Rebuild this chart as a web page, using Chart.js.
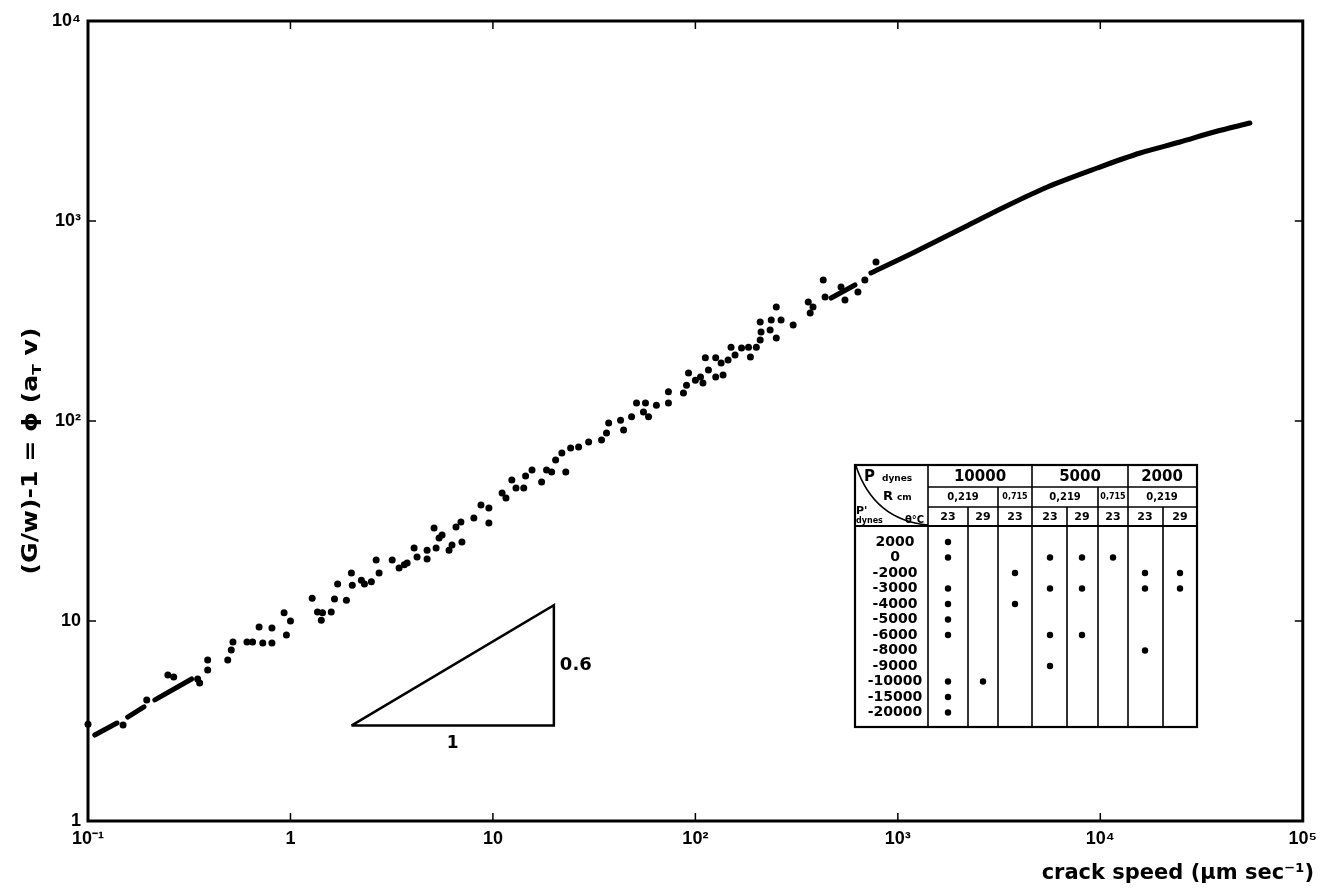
<!DOCTYPE html>
<html><head><meta charset="utf-8">
<script src="https://cdn.jsdelivr.net/npm/chart.js@4"></script>
<style>html,body{margin:0;padding:0;background:#fff}canvas{display:block}</style>
</head><body>
<canvas id="c" width="1324" height="893"></canvas>
<script>
// ---- axis ticks ----
const xTickValues=[0.1,1,10,100,1000,10000,100000];
const xTickLabels=['10⁻¹','1','10','10²','10³','10⁴','10⁵'];
const yTickValues=[1,10,100,1000,10000];
const yTickLabels=['1','10','10²','10³','10⁴'];
const xTitle='crack speed (µm sec⁻¹)';
const yTitleParts=['(G/w)-1 = ϕ (a','T',' v)'];

// ---- scattered measurements (crack speed, (G/w)-1) ----
const pointsX=[0.1,0.149,0.195,0.248,0.265,0.348,0.356,0.39,0.39,0.49,0.51,0.52,0.61,0.65,0.73,0.70,0.81,0.81,0.955,0.93,1.0,
1.28,1.36,1.44,1.59,1.42,1.65,1.89,1.71,2.0,2.02,2.24,2.32,2.51,2.74,2.65,3.18,3.44,3.65,3.77,4.08,4.22,4.73,4.73,5.24,5.12,5.42,5.61,6.07,6.28,7.03,6.57,6.95,8.05,8.73,9.55,9.55,
11.1,11.6,12.4,13.0,14.2,14.5,15.6,17.4,18.4,19.5,20.4,22.9,21.9,24.2,26.5,29.7,34.4,37.3,36.4,42.7,44.2,48.4,51.2,56.7,55.4,58.7,64.2,73.6,73.6,87.3,90.4,92.5,
100,106,109,116,112,126,126,137,134,145,150,157,169,183,187,200,209,211,209,234,251,237,251,265,304,361,369,381,428,437,524,548,635,687,780];
const pointsY=[3.05,3.02,4.03,5.37,5.25,5.13,4.9,6.38,5.69,6.38,7.16,7.85,7.85,7.85,7.76,9.33,9.23,7.76,8.51,11.0,10.0,
13.0,11.1,11.0,11.1,10.1,12.9,12.7,15.3,17.4,15.1,16.0,15.3,15.7,17.4,20.2,20.2,18.4,19.1,19.5,23.2,20.9,22.6,20.4,23.2,29.2,26.0,26.9,22.6,24.0,24.8,29.5,31.3,32.7,38.0,36.7,30.9,
43.7,41.2,50.7,46.2,46.2,53.1,56.9,49.5,56.9,55.6,63.8,55.6,69.2,73.3,74.1,78.5,80.4,97.7,87.1,101,90.2,105,123,123,111,105,120,140,123,138,151,174,
160,166,155,180,207,207,166,170,195,202,234,214,232,234,209,234,254,279,313,285,260,320,372,320,302,394,347,372,507,417,468,403,442,507,624];

// ---- low-speed line (dashed pieces) ----
const lowDash1X=[0.108,0.139], lowDash1Y=[2.69,3.09];
const lowDash2X=[0.157,0.189], lowDash2Y=[3.31,3.72];
const lowDash3X=[0.214,0.325], lowDash3Y=[4.03,5.13];
// ---- high-speed curve ----
const highDashX=[468,614], highDashY=[412,479];
const curveX=[736,1213,2138,3365,5480,9660,15740,24770,36470,54800];
const curveY=[550,700,933,1175,1479,1841,2188,2483,2786,3090];
// ---- slope triangle ----
const triX=[2,20,20,2], triY=[3,3,12,3];
const triRunLabel='1', triRiseLabel='0.6';

// ---- inset table ----
const tablePressures=['10000','5000','2000'];
const tableRadii=['0,219','0,715','0,219','0,715','0,219'];
const tableTemps=['23','29','23','23','29','23','23','29'];
const tableRows=['2000','0','-2000','-3000','-4000','-5000','-6000','-8000','-9000','-10000','-15000','-20000'];
const tableMarks=[[0,1,3,4,5,6,9,10,11],[9],[2,4],[1,3,6,8],[1,3,6],[1],[2,3,7],[2,3]];

const toXY=(xs,ys)=>xs.map((x,i)=>({x,y:ys[i]}));
const lineDs=(xs,ys,w,extra)=>Object.assign({type:'line',data:toXY(xs,ys),borderColor:'#000',borderWidth:w,pointRadius:0,borderCapStyle:'round',fill:false,clip:false},extra||{});

function seg(ctx,x1,y1,x2,y2){ctx.beginPath();ctx.moveTo(x1,y1);ctx.lineTo(x2,y2);ctx.stroke();}

function drawTable(ctx){
  const L=855,R=1197,T=465,B=727,r1=487,r2=507,r3=526;
  ctx.strokeStyle='#000';ctx.fillStyle='#000';
  ctx.lineWidth=2.2;ctx.strokeRect(L,T,R-L,B-T);
  ctx.lineWidth=1.6;
  seg(ctx,928,T,928,B);
  seg(ctx,928,r1,R,r1);seg(ctx,928,r2,R,r2);
  ctx.lineWidth=2.2;seg(ctx,L,r3,R,r3);
  ctx.lineWidth=1.6;
  [1032,1128].forEach(x=>seg(ctx,x,T,x,B));
  [998,1098].forEach(x=>seg(ctx,x,r1,x,B));
  [968,1067,1163].forEach(x=>seg(ctx,x,r2,x,B));
  ctx.beginPath();ctx.moveTo(L+1,T+1);ctx.quadraticCurveTo(874,520,928,525);ctx.stroke();
  ctx.textBaseline='middle';
  ctx.textAlign='left';
  ctx.font='bold 15px "DejaVu Sans"';ctx.fillText('P',864,477);
  ctx.font='bold 9px "DejaVu Sans"';ctx.fillText('dynes',882,479);
  ctx.font='bold 13px "DejaVu Sans"';ctx.fillText('R',883,497);
  ctx.font='bold 9px "DejaVu Sans"';ctx.fillText('cm',897,498);
  ctx.font='bold 11px "DejaVu Sans"';ctx.fillText("P'",856,511);
  ctx.font='bold 8px "DejaVu Sans"';ctx.fillText('dynes',856,521);
  ctx.font='bold 10px "DejaVu Sans"';ctx.fillText('θ°C',905,520);
  ctx.textAlign='center';
  ctx.font='bold 15px "DejaVu Sans"';
  [980,1080,1162].forEach((x,i)=>ctx.fillText(tablePressures[i],x,477));
  const rx=[963,1015,1065,1113,1162];
  tableRadii.forEach((t,i)=>{ctx.font=(t==='0,715'?'bold 8px':'bold 10px')+' "DejaVu Sans"';ctx.fillText(t,rx[i],497);});
  const cx=[948,983,1015,1050,1082,1113,1145,1180];
  ctx.font='bold 11px "DejaVu Sans"';
  tableTemps.forEach((t,i)=>ctx.fillText(t,cx[i],517));
  ctx.font='bold 14px "DejaVu Sans"';
  const ry=i=>542+i*15.5;
  tableRows.forEach((t,i)=>ctx.fillText(t,895,ry(i)));
  tableMarks.forEach((rows,c)=>rows.forEach(r=>{ctx.beginPath();ctx.arc(cx[c],ry(r),3.2,0,Math.PI*2);ctx.fill();}));
}

const deco={
  id:'deco',
  afterDraw(chart){
    const ctx=chart.ctx,a=chart.chartArea,xs=chart.scales.x,ys=chart.scales.y;
    ctx.save();
    ctx.strokeStyle='#000';ctx.fillStyle='#000';
    ctx.lineWidth=3;ctx.strokeRect(a.left,a.top,a.right-a.left,a.bottom-a.top);
    ctx.lineWidth=1.5;
    xTickValues.forEach(v=>{const p=xs.getPixelForValue(v);seg(ctx,p,a.bottom,p,a.bottom-8);seg(ctx,p,a.top,p,a.top+8);});
    yTickValues.forEach(v=>{const p=ys.getPixelForValue(v);seg(ctx,a.left,p,a.left+8,p);seg(ctx,a.right,p,a.right-8,p);});
    ctx.textBaseline='middle';
    ctx.font='bold 17px "DejaVu Sans"';ctx.textAlign='center';
    ctx.fillText(triRunLabel,xs.getPixelForValue(Math.sqrt(triX[0]*triX[1])),ys.getPixelForValue(triY[0])+18);
    ctx.font='bold 18px "DejaVu Sans"';ctx.textAlign='left';
    ctx.fillText(triRiseLabel,xs.getPixelForValue(triX[1])+6,ys.getPixelForValue(Math.sqrt(triY[1]*triY[2])));
    // x title
    ctx.font='bold 20px "DejaVu Sans"';
    let w=ctx.measureText(xTitle).width;
    const xs2=Math.round(20*278/w);
    ctx.font='bold '+xs2+'px "DejaVu Sans"';
    ctx.textAlign='right';ctx.fillText(xTitle,1314,874);
    // y title (rotated, stretched to reference length)
    const base='bold 21px "DejaVu Sans"',sub='bold 13px "DejaVu Sans"';
    ctx.font=base;const w0=ctx.measureText(yTitleParts[0]).width,w2=ctx.measureText(yTitleParts[2]).width;
    ctx.font=sub;const w1=ctx.measureText(yTitleParts[1]).width;
    const tot=w0+w1+w2;
    ctx.translate(32,451);ctx.rotate(-Math.PI/2);ctx.scale(247/tot,1);
    ctx.textAlign='left';
    let x=-tot/2;
    ctx.font=base;ctx.fillText(yTitleParts[0],x,0);x+=w0;
    ctx.font=sub;ctx.fillText(yTitleParts[1],x,6);x+=w1;
    ctx.font=base;ctx.fillText(yTitleParts[2],x,0);
    ctx.restore();
    ctx.save();drawTable(ctx);ctx.restore();
  }
};

new Chart(document.getElementById('c'),{
  data:{datasets:[
    {type:'scatter',data:toXY(pointsX,pointsY),backgroundColor:'#000',borderWidth:0,pointRadius:3.5,clip:false},
    lineDs(lowDash1X,lowDash1Y,5),
    lineDs(lowDash2X,lowDash2Y,5),
    lineDs(lowDash3X,lowDash3Y,5),
    lineDs(highDashX,highDashY,5),
    lineDs(curveX,curveY,5,{tension:0.4,cubicInterpolationMode:'monotone'}),
    lineDs(triX,triY,2.5,{borderCapStyle:'butt',borderJoinStyle:'miter'})
  ]},
  options:{
    responsive:false,animation:false,
    layout:{padding:{top:21,right:18,left:0,bottom:0}},
    plugins:{legend:{display:false},tooltip:{enabled:false}},
    scales:{
      x:{type:'logarithmic',position:'bottom',min:0.1,max:100000,
        afterBuildTicks:s=>{s.ticks=xTickValues.map(v=>({value:v}));},
        afterFit:s=>{s.height=72;},
        grid:{display:false,drawTicks:false},border:{display:false},
        ticks:{autoSkip:false,maxRotation:0,padding:7,color:'#000',font:{family:'Liberation Sans',size:18,weight:'bold'},
          callback:(v,i)=>xTickLabels[i]}},
      y:{type:'logarithmic',position:'left',min:1,max:10000,
        afterBuildTicks:s=>{s.ticks=yTickValues.map(v=>({value:v}));},
        afterFit:s=>{s.width=88;},
        grid:{display:false,drawTicks:false},border:{display:false},
        ticks:{autoSkip:false,padding:7,color:'#000',font:{family:'Liberation Sans',size:18,weight:'bold'},
          callback:(v,i)=>yTickLabels[i]}}
    }
  },
  plugins:[deco]
});
</script>
</body></html>
